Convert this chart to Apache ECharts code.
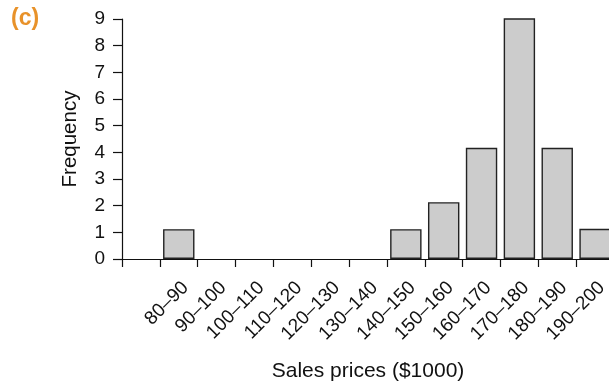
<!DOCTYPE html>
<html>
<head>
<meta charset="utf-8">
<script src="https://cdn.jsdelivr.net/npm/echarts@6/dist/echarts.min.js"></script>
<style>
  html, body { margin: 0; padding: 0; background: #fff; }
  #chart { width: 609px; height: 383px; }
</style>
</head>
<body>
<div id="chart"></div>
<script>
const categories = ['', '80–90', '90–100', '100–110', '110–120', '120–130', '130–140', '140–150', '150–160', '160–170', '170–180', '180–190', '190–200'];
const frequencies = [null, 1.12, 0, 0, 0, 0, 0, 1.12, 2.13, 4.17, 9.05, 4.17, 1.13];
const yTicks = [0, 1, 2, 3, 4, 5, 6, 7, 8, 9];

const FONT = '"Liberation Sans", Arial, Helvetica, sans-serif';
const chart = echarts.init(document.getElementById('chart'), null, { renderer: 'canvas' });
chart.setOption({
  animation: false,
  backgroundColor: '#ffffff',
  grid: { left: 122, top: 19, width: 492, height: 240, containLabel: false, outerBoundsMode: 'none' },
  xAxis: {
    type: 'category',
    data: categories,
    boundaryGap: true,
    name: 'Sales prices ($1000)',
    nameLocation: 'middle',
    nameGap: 102,
    nameTextStyle: { fontFamily: FONT, fontSize: 21, color: '#111' },
    axisLine: { lineStyle: { color: '#111', width: 1.2 } },
    axisTick: { show: true, alignWithLabel: false, interval: 0, length: 8, lineStyle: { color: '#111', width: 1.2 } },
    axisLabel: { interval: 0, rotate: 45, margin: 19, verticalAlign: 'top', fontFamily: FONT, fontSize: 19, color: '#111' },
    splitLine: { show: false }
  },
  yAxis: {
    type: 'value',
    min: yTicks[0],
    max: yTicks[yTicks.length - 1],
    interval: 1,
    name: 'Frequency',
    nameLocation: 'middle',
    nameGap: 41,
    nameRotate: 90,
    nameTextStyle: { fontFamily: FONT, fontSize: 20.5, color: '#111' },
    axisLine: { show: true, lineStyle: { color: '#111', width: 1.2 } },
    axisTick: { show: true, inside: false, length: 9, lineStyle: { color: '#111', width: 1.2 } },
    axisLabel: { margin: 17, fontFamily: FONT, fontSize: 19, color: '#111' },
    splitLine: { show: false }
  },
  graphic: [{
    type: 'text', left: 11, top: 7,
    style: { text: '(c)', fontFamily: FONT, fontSize: 23, fontWeight: 'bold', fill: '#E8922A' }
  }],
  series: [{
    type: 'bar',
    data: frequencies.map(v => (v === 0 ? '-' : v)),
    barCategoryGap: '17%',
    itemStyle: { color: '#cccccc', borderColor: '#222', borderWidth: 1.4 }
  }]
});
</script>
</body>
</html>
